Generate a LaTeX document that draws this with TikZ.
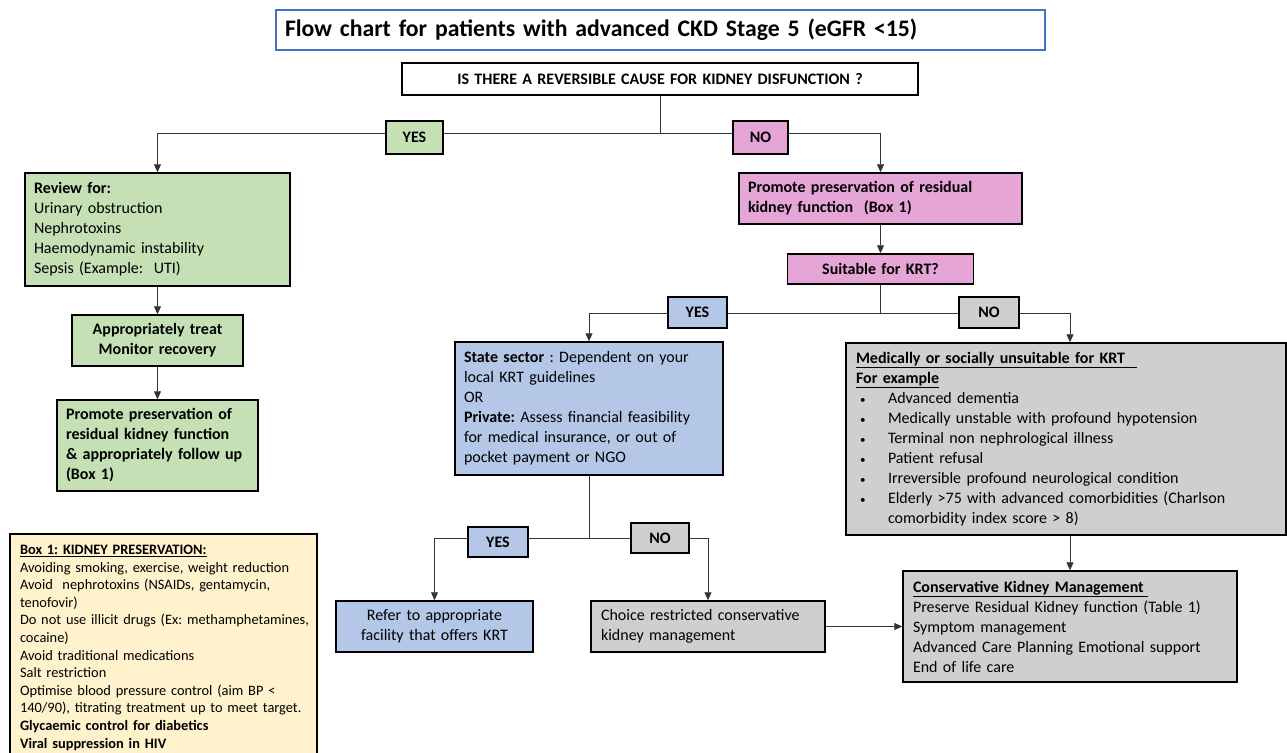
\documentclass[tikz,border=0pt]{standalone}
\usepackage{fontspec}
\setmainfont{Carlito}
\frenchspacing
\usetikzlibrary{arrows.meta, calc}
\definecolor{TitleBlue}{RGB}{68, 114, 196}
\definecolor{KeepGreen}{RGB}{197, 224, 180}
\definecolor{NoPink}{RGB}{230, 165, 215}
\definecolor{KrtBlue}{RGB}{180, 199, 231}
\definecolor{CkmGray}{RGB}{208, 206, 206}
\definecolor{BoxYellow}{RGB}{255, 242, 204}
\newcommand{\dotitem}{\hspace*{4pt}\makebox[28pt][l]{\fontsize{11}{11}\selectfont\textbullet}}

\begin{document}
\begin{tikzpicture}[x=1pt, y=-1pt,
            box/.style={draw=black, line width=1.5pt, inner xsep=9pt, inner ysep=0pt, font=\fontsize{16}{20}\selectfont},
            tag/.style={draw=black, line width=1.5pt, inner sep=0pt, font=\fontsize{16}{20}\selectfont\bfseries},
            link/.style={draw=black!80, line width=0.8pt},
            arr/.style={link, -{Triangle[length=8pt, width=7pt]}}]
            \useasboundingbox (0,0) rectangle (1287,752);
            \clip (0,0) rectangle (1287,752);

            \node[draw=TitleBlue, line width=1.5pt, fill=white, text width=751pt, minimum height=40pt, inner xsep=9pt, inner ysep=0pt, align=left, font=\fontsize{23.7}{26}\selectfont\bfseries] (title) at (660.5,30) {Flow chart for patients with advanced CKD Stage 5 (eGFR <15)};
            \node[box, fill=white, text width=498pt, minimum height=32pt, align=center, font=\fontsize{16}{18}\selectfont\bfseries] (cause) at (660,79) {IS THERE A REVERSIBLE CAUSE FOR KIDNEY DISFUNCTION ?};

            \node[box, fill=KeepGreen, text width=247pt, minimum height=113pt, align=left] (review) at (157.5,229.5) {\textbf{Review for:}\\ Urinary obstruction\\ Nephrotoxins\\ Haemodynamic instability\\ Sepsis (Example:~ UTI)};
            \node[box, fill=KeepGreen, text width=153pt, minimum height=51pt, align=center, font=\fontsize{16}{20}\selectfont\bfseries] (treat) at (157.5,340.5) {Appropriately treat\\ Monitor recovery};
            \node[box, fill=KeepGreen, text width=183pt, minimum height=91pt, align=left, font=\fontsize{16}{20}\selectfont\bfseries] (keepL) at (157.5,445.5) {Promote preservation of\\ residual kidney function\\ \& appropriately follow up\\ (Box 1)};
            \node[box, fill=BoxYellow, line width=2pt, anchor=north, text width=287pt, inner xsep=10pt, inner ysep=11pt, align=left, font=\fontsize{14.4}{17.6}\selectfont] (box1) at (163.5,533) {\textbf{\underline{Box 1: KIDNEY PRESERVATION:}}\\
                Avoiding smoking, exercise, weight reduction\\
                Avoid~ nephrotoxins (NSAIDs, gentamycin,\\
                tenofovir)\\
                \mbox{Do not use illicit drugs (Ex: methamphetamines,}\\
                cocaine)\\
                Avoid traditional medications\\
                Salt restriction\\
                Optimise blood pressure control (aim BP <\\
                \mbox{140/90), titrating treatment up to meet target.}\\
                \textbf{Glycaemic control for diabetics}\\
                \textbf{Viral suppression in HIV}};

            \node[box, fill=NoPink, text width=265pt, minimum height=51pt, align=left, font=\fontsize{16}{20}\selectfont\bfseries] (keepR) at (880.5,198.5) {Promote preservation of residual\\ kidney function~ (Box 1)};
            \node[box, fill=NoPink, text width=168pt, minimum height=30pt, align=center, font=\fontsize{16}{20}\selectfont\bfseries] (suit) at (880.5,269) {Suitable for KRT?};

            \node[box, fill=KrtBlue, text width=250pt, minimum height=133pt, align=left] (state) at (589,408.5) {\textbf{State sector} : Dependent on your\\ local KRT guidelines\\ OR\\ \textbf{Private:} Assess financial feasibility\\ for medical insurance, or out of\\ pocket payment or NGO};
            \node[box, fill=CkmGray, text width=420pt, inner xsep=10pt, minimum height=192pt, align=left] (unfit) at (1066,439) {\textbf{\underline{Medically or socially unsuitable for KRT\hspace*{12pt}}}\\
                \textbf{\underline{For example}}\\
                \dotitem Advanced dementia\\
                \dotitem Medically unstable with profound hypotension\\
                \dotitem Terminal non nephrological illness\\
                \dotitem Patient refusal\\
                \dotitem Irreversible profound neurological condition\\
                \dotitem Elderly >75 with advanced comorbidities (Charlson\\
                \hspace*{32pt}comorbidity index score > 8)};

            \node[box, fill=KrtBlue, text width=179pt, minimum height=51pt, align=center] (refer) at (434.5,626.5) {Refer to appropriate\\ facility that offers KRT};
            \node[box, fill=CkmGray, text width=214pt, inner xsep=10pt, minimum height=51pt, align=left] (choice) at (708,626.5) {Choice restricted conservative\\ kidney management};
            \node[box, fill=CkmGray, text width=314pt, inner xsep=10pt, minimum height=111pt, align=left] (ckm) at (1070,626.5) {\textbf{\underline{Conservative Kidney Management\hspace*{4pt}}}\\ Preserve Residual Kidney function (Table 1)\\ Symptom management\\ Advanced Care Planning Emotional support\\ End of life care};

            \coordinate (split1) at (660,133);
            \coordinate (split2) at (880.5,313);
            \coordinate (split3) at (589,538);
            \draw[link] (cause.south) -- (split1);
            \draw[arr] (split1) -| (review.north);
            \draw[arr] (split1) -| (keepR.north);
            \draw[arr] (review) -- (treat);
            \draw[arr] (treat) -- (keepL);
            \draw[arr] (keepR) -- (suit);
            \draw[link] (suit.south) -- (split2);
            \draw[arr] (split2) -| (state.north);
            \draw[arr] (split2) -| (unfit.north -| ckm.north);
            \draw[arr] (unfit.south -| ckm.north) -- (ckm.north);
            \draw[link] (state.south) -- (split3);
            \draw[arr] (split3) -| (refer.north);
            \draw[arr] (split3) -| (choice.north);
            \draw[arr] (choice.east) -- (ckm.west);

            \node[tag, fill=KeepGreen, minimum width=57pt, minimum height=33pt] (yes1) at (414.5,137.5) {YES};
            \node[tag, fill=NoPink, minimum width=55pt, minimum height=33pt] (no1) at (760.5,137.5) {NO};
            \node[tag, fill=KrtBlue, minimum width=59pt, minimum height=31pt] (yes2) at (697.5,312.5) {YES};
            \node[tag, fill=CkmGray, minimum width=60pt, minimum height=31pt] (no2) at (989,312.5) {NO};
            \node[tag, fill=KrtBlue, minimum width=60pt, minimum height=30pt] (yes3) at (498,542) {YES};
            \node[tag, fill=CkmGray, minimum width=58pt, minimum height=30pt] (no3) at (660,538) {NO};
        \end{tikzpicture}
\end{document}
